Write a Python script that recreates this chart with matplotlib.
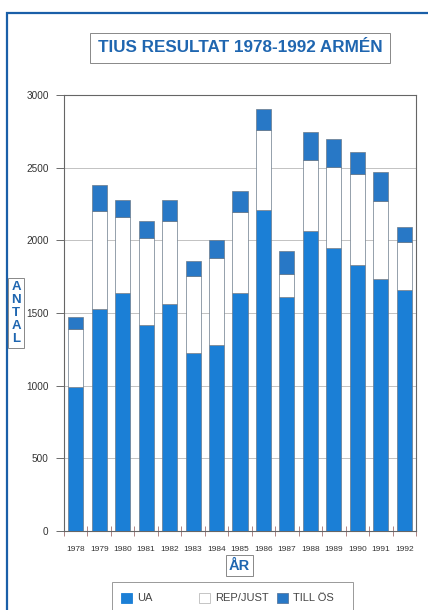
import matplotlib
matplotlib.use("Agg")
import matplotlib.pyplot as plt
from matplotlib.patches import Rectangle
import numpy as np

years = ["1978", "1979", "1980", "1981", "1982", "1983", "1984", "1985",
         "1986", "1987", "1988", "1989", "1990", "1991", "1992"]
ua = [990, 1525, 1640, 1418, 1560, 1225, 1280, 1636, 2209, 1608, 2065, 1946, 1831, 1732, 1659]
rep_just = [400, 677, 519, 601, 576, 530, 601, 562, 551, 161, 488, 561, 624, 542, 332]
till_os = [80, 179, 119, 117, 142, 103, 119, 142, 142, 158, 193, 189, 153, 199, 103]
yticks = [0, 500, 1000, 1500, 2000, 2500, 3000]
legend_labels = ["UA", "REP/JUST", "TILL ÖS"]

BLUE = "#1b7fd6"
BLUE2 = "#2878c6"
TXT = "#1f66b0"

plt.rcParams['font.family'] = ['Liberation Sans', 'DejaVu Sans']

fig = plt.figure(figsize=(4.28, 6.10), dpi=100)
W, H = 428, 610


def fx(px):
    return px / W


def fy(py):
    return 1 - py / H


# outer blue frame
fig.patches.append(Rectangle((fx(7), -0.01), 1.0, fy(13) + 0.01, transform=fig.transFigure,
                             fill=False, edgecolor="#1a5fa8", linewidth=1.6))

ax = fig.add_axes([fx(64), fy(531), 352 / W, 436 / H])
x = np.arange(len(years))
bw = 0.64
ua_a = np.array(ua)
rep_a = np.array(rep_just)
till_a = np.array(till_os)
ax.bar(x, ua_a, width=bw, color=BLUE, edgecolor="#6a7a8a", linewidth=0.5, zorder=3)
ax.bar(x, rep_a, width=bw, bottom=ua_a, color="white", edgecolor="#6a7a8a", linewidth=0.5, zorder=3)
ax.bar(x, till_a, width=bw, bottom=ua_a + rep_a, color=BLUE2, edgecolor="#6a7a8a", linewidth=0.5, zorder=3)

ax.set_xlim(-0.5, len(years) - 0.5)
ax.set_ylim(0, 3000)
ax.set_yticks(yticks)
ax.set_yticklabels([str(v) for v in yticks], fontsize=7.2, color="#333333")
ax.set_xticks(x)
ax.set_xticklabels(years, fontsize=6, color="#333333")
ax.set_xticks(np.arange(-0.5, len(years), 1.0), minor=True)
ax.tick_params(axis='x', which='major', length=0, pad=11)
ax.tick_params(axis='x', which='minor', length=7, direction='inout', color="#a07070", width=0.6)
ax.tick_params(axis='y', which='major', length=6, direction='out', color="#555555", width=0.6, pad=5)
ax.yaxis.grid(True, color="#b8b8b8", linewidth=0.6, zorder=0)
ax.set_axisbelow(True)
for s in ax.spines.values():
    s.set_color("#666666")
    s.set_linewidth(0.8)

# title
fig.text(fx(240), fy(48), "TIUS RESULTAT 1978-1992 ARMÉN", ha="center", va="center",
         fontsize=12.3, fontweight="bold", color=TXT,
         bbox=dict(boxstyle="square,pad=0.45", facecolor="white", edgecolor="#888888", linewidth=0.7))

# y label
fig.text(fx(16), fy(313), "A\nN\nT\nA\nL", ha="center", va="center", fontsize=9.5,
         fontweight="bold", color=TXT, linespacing=1.1,
         bbox=dict(boxstyle="square,pad=0.25", facecolor="white", edgecolor="#888888", linewidth=0.7))

# x label
fig.text(fx(239.5), fy(565.5), "ÅR", ha="center", va="center", fontsize=10.5,
         fontweight="bold", color=TXT,
         bbox=dict(boxstyle="square,pad=0.22", facecolor="white", edgecolor="#888888", linewidth=0.7))

# legend (manual, to keep the reference's even spacing)
fig.patches.append(Rectangle((fx(112), -0.01), (353 - 112) / W, fy(582) + 0.01,
                             transform=fig.transFigure, facecolor="white",
                             edgecolor="#999999", linewidth=0.7))
marker_x = [121, 199, 277]
marker_fc = [BLUE, "white", BLUE2]
marker_ec = [BLUE, "#bbbbbb", "#5a7aa0"]
for mx, fc, ec, lab in zip(marker_x, marker_fc, marker_ec, legend_labels):
    fig.patches.append(Rectangle((fx(mx), fy(603)), 11 / W, 10 / H, transform=fig.transFigure,
                                 facecolor=fc, edgecolor=ec, linewidth=0.6))
    fig.text(fx(mx + 16), fy(598), lab, ha="left", va="center", fontsize=8, color="#444444")

fig.savefig("out.png", dpi=100, facecolor="white")
